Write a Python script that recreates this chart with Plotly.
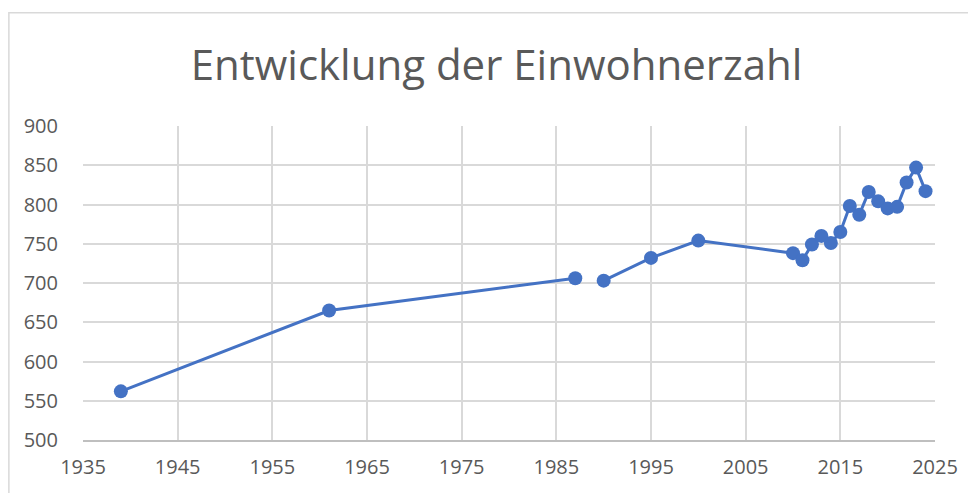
import plotly.graph_objects as go

# Data (two segments: gap between 1987 and 1990)
years_a = [1939, 1961, 1987]
pop_a = [562, 665, 706]
years_b = [1990, 1995, 2000, 2010, 2011, 2012, 2013, 2014, 2015, 2016,
           2017, 2018, 2019, 2020, 2021, 2022, 2023, 2024]
pop_b = [703, 732, 754, 738, 729, 749, 760, 751, 765, 798,
         787, 816, 804, 795, 797, 828, 847, 817]

x_ticks = list(range(1935, 2026, 10))
y_ticks = list(range(500, 901, 50))

color = "#4472C4"
font_family = "'Open Sans', sans-serif"

fig = go.Figure()
for xs, ys in [(years_a, pop_a), (years_b, pop_b)]:
    fig.add_trace(go.Scatter(
        x=xs, y=ys, mode="lines+markers",
        line=dict(color=color, width=3),
        marker=dict(color=color, size=14),
        showlegend=False,
    ))

fig.update_layout(
    width=968, height=485,
    margin=dict(l=75, r=41, t=118, b=53),
    paper_bgcolor="white", plot_bgcolor="white",
    font=dict(family=font_family, color="#595959", size=20),
    title=dict(text="Entwicklung der Einwohnerzahl", x=0.5047, xanchor="center",
               y=0.8825, yanchor="middle", yref="container",
               font=dict(size=42, color="#595959", family=font_family)),
    shapes=[dict(type="rect", xref="paper", yref="paper",
                 x0=-0.087, x1=1.2, y0=-0.5, y1=1.361,
                 line=dict(color="#d9d9d9", width=1.5), layer="below")],
)
fig.update_xaxes(range=[1935, 2025], tickvals=x_ticks, ticktext=[str(v) for v in x_ticks],
                 showgrid=True, gridcolor="#d9d9d9", gridwidth=1.5,
                 showline=True, linecolor="#bfbfbf", linewidth=2,
                 zeroline=False, ticks="", ticklabelstandoff=8)
fig.update_yaxes(range=[500, 900], tickvals=y_ticks, ticktext=[str(v) for v in y_ticks],
                 showgrid=True, gridcolor="#d9d9d9", gridwidth=1.5,
                 showline=False, zeroline=False, ticks="", ticklabelstandoff=24)

fig.write_html("out.html")
